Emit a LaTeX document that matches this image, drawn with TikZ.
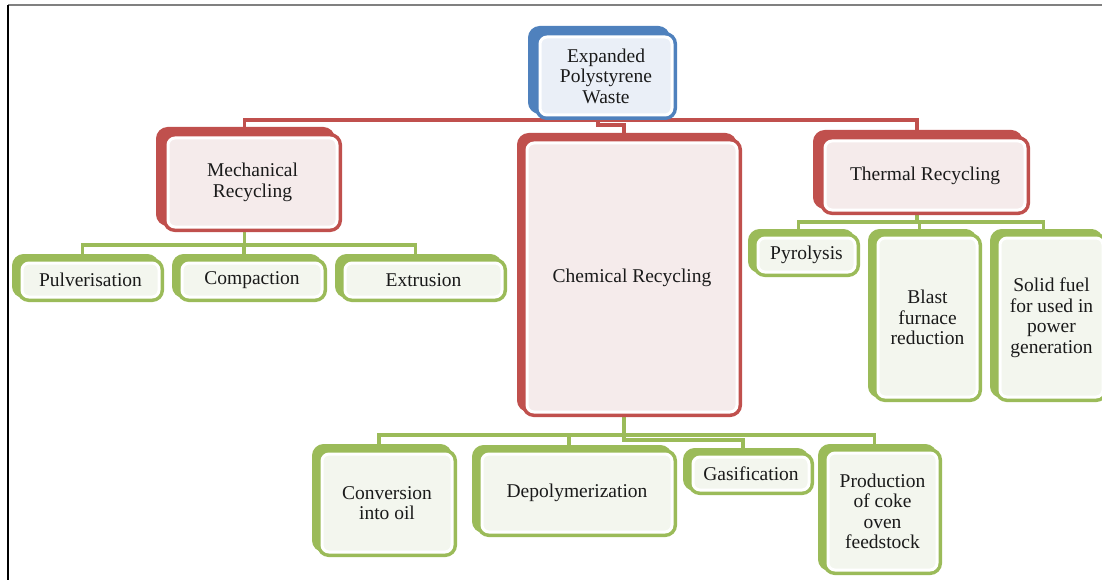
\documentclass[tikz,border=0pt]{standalone}
\usepackage{fontspec}
\setmainfont{Liberation Serif}
\usetikzlibrary{backgrounds}
\definecolor{bl}{HTML}{4F81BD}
\definecolor{blf}{HTML}{EAEFF7}
\definecolor{rd}{HTML}{C0504D}
\definecolor{rdf}{HTML}{F5EBEB}
\definecolor{gr}{HTML}{9BBB59}
\definecolor{grf}{HTML}{F3F6EE}
\definecolor{txt}{HTML}{1A1A1A}
\tikzset{
  box/.style n args={4}{rectangle, rounded corners=7pt, fill=#2, draw=white,
    line width=3pt, text=txt, align=center, inner sep=0pt, outer sep=0pt,
    font=\fontsize{19.5}{20.5}\selectfont,
    preaction={draw=#1, fill=#1, line width=10pt, transform canvas={xshift=-#3pt, yshift=#4pt}},
    preaction={draw=#1, line width=10pt}},
  rline/.style={draw=rd, line width=3.2pt},
  gline/.style={draw=gr, line width=3.2pt},
}
\begin{document}
\begin{tikzpicture}[x=1pt,y=-1pt]
\useasboundingbox (0,0) rectangle (1102,580);
\draw[gray, line width=2pt] (8,5) -- (1102,5);
\draw[black, line width=1.6pt] (8,5) -- (8,580);

\node[box={bl}{blf}{7}{6}, minimum width=132pt, minimum height=78pt] (top) at (606,76) {Expanded\\Polystyrene\\Waste};
\node[box={rd}{rdf}{7}{6}, minimum width=169pt, minimum height=89pt] (mech) at (252.5,182.5) {Mechanical\\Recycling};
\node[box={rd}{rdf}{5}{5}, minimum width=210pt, minimum height=269pt] (chem) at (632,277.5) {Chemical Recycling};
\node[box={rd}{rdf}{7}{6}, minimum width=200pt, minimum height=69pt] (therm) at (925,175.5) {Thermal Recycling};

\node[box={gr}{grf}{5}{4}, minimum width=137pt, minimum height=34pt] (pulv) at (90.5,280) {Pulverisation};
\node[box={gr}{grf}{5}{4}, minimum width=140pt, minimum height=34pt] (comp) at (252,280) {Compaction};
\node[box={gr}{grf}{5}{4}, minimum width=157pt, minimum height=34pt] (extr) at (423.5,280) {Extrusion};

\node[box={gr}{grf}{5}{4}, minimum width=97pt, minimum height=34pt] (pyro) at (806.5,255) {Pyrolysis};
\node[box={gr}{grf}{5}{4}, minimum width=99pt, minimum height=159pt] (blast) at (927.5,317.5) {Blast\\furnace\\reduction};
\node[box={gr}{grf}{5}{4}, minimum width=103pt, minimum height=159pt] (solid) at (1051.5,317.5) {Solid fuel\\for used in\\power\\generation};

\node[box={gr}{grf}{5}{5}, minimum width=130pt, minimum height=98pt] (conv) at (387,503) {Conversion\\into oil};
\node[box={gr}{grf}{5}{4}, minimum width=190pt, minimum height=78pt] (depol) at (577,493) {Depolymerization};
\node[box={gr}{grf}{5}{4}, minimum width=116pt, minimum height=33pt] (gas) at (751,473.5) {Gasification};
\node[box={gr}{grf}{5}{4}, minimum width=109pt, minimum height=117pt] (prod) at (882.5,511.5) {Production\\of coke\\oven\\feedstock};

\foreach \n in {top,mech,chem,therm,pulv,comp,extr,pyro,blast,solid,conv,depol,gas,prod}{
  \coordinate (\n-n) at ([xshift=-8pt]\n.north);
  \coordinate (\n-s) at ([xshift=-8pt]\n.south);
}
\coordinate (b1) at (0,120);
\coordinate (b1b) at (0,125);
\coordinate (b2) at (0,245);
\coordinate (b4) at (0,222);
\coordinate (b3) at (0,435);
\coordinate (b3b) at (0,440);

\begin{scope}[on background layer]
\draw[rline] (mech-n) -- (mech-n |- b1) -- (therm-n |- b1) -- (therm-n);
\draw[rline] (top-s) -- (top-s |- b1b) -- (chem-n |- b1b) -- (chem-n);

\draw[gline] (mech-s) -- (mech-s |- b2);
\draw[gline] (pulv-n) -- (pulv-n |- b2) -- (extr-n |- b2) -- (extr-n);
\draw[gline] (comp-n |- b2) -- (comp-n);

\draw[gline] (therm-s) -- (therm-s |- b4);
\draw[gline] (pyro-n) -- (pyro-n |- b4) -- (solid-n |- b4) -- (solid-n);
\draw[gline] (blast-n |- b4) -- (blast-n);

\draw[gline] (chem-s) -- (chem-s |- b3b) -- (gas-n |- b3b) -- (gas-n);
\draw[gline] (conv-n) -- (conv-n |- b3) -- (prod-n |- b3) -- (prod-n);
\draw[gline] (depol-n |- b3) -- (depol-n);
\end{scope}
\end{tikzpicture}
\end{document}
